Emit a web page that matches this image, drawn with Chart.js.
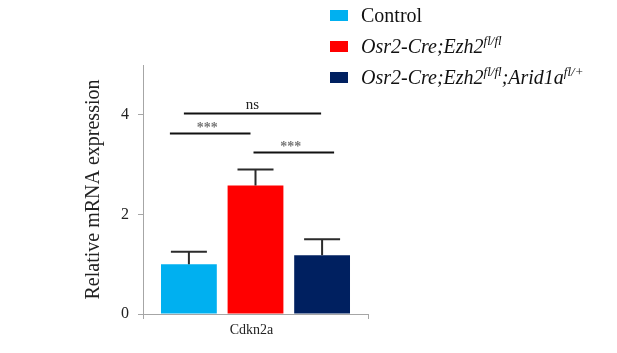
<!DOCTYPE html>
<html>
<head>
<meta charset="utf-8">
<script src="https://cdn.jsdelivr.net/npm/chart.js@4"></script>
<style>
  html, body { margin: 0; padding: 0; background: #fff; }
  #wrap { width: 617px; height: 353px; }
</style>
</head>
<body>
<div id="wrap"><canvas id="chart"></canvas></div>
<script>
// data
const categories = ["Cdkn2a"];
const seriesNames = ["Control", "Osr2-Cre;Ezh2^fl/fl", "Osr2-Cre;Ezh2^fl/fl;Arid1a^fl/+"];
const seriesItalic = [false, true, true];
const seriesColors = ["#00B0F0", "#FF0000", "#002060"];
const meanValues = [1.0, 2.58, 1.18];
const errorValues = [0.25, 0.32, 0.32];
const yTicks = [0, 2, 4];
const yMax = 5;

// significance bars: from bar index, to bar index, height, label
const sigFrom = [0, 0, 1];
const sigTo = [2, 1, 2];
const sigHeight = [4.03, 3.64, 3.26];
const sigLabels = ["ns", "***", "***"];

// small hand-drawn offsets of the bracket ends (px)
const sigEndOffsets = [[-5, -1], [-19, -5], [-2, 12]];

const serif = "'Liberation Serif', 'Times New Roman', serif";

const errorBarPlugin = {
    id: "errorBars",
    afterDatasetsDraw(chart) {
        const ctx = chart.ctx;
        const y = chart.scales.y;
        ctx.save();
        ctx.strokeStyle = "#2b2b2b";
        ctx.lineWidth = 2;
        chart.data.datasets.forEach((ds, i) => {
            const bar = chart.getDatasetMeta(i).data[0];
            const top = y.getPixelForValue(meanValues[i] + errorValues[i]);
            const half = 18;
            ctx.beginPath();
            ctx.moveTo(bar.x, bar.y);
            ctx.lineTo(bar.x, top);
            ctx.moveTo(bar.x - half, top);
            ctx.lineTo(bar.x + half, top);
            ctx.stroke();
        });
        ctx.restore();
    }
};

const sigPlugin = {
    id: "significance",
    afterDatasetsDraw(chart) {
        const ctx = chart.ctx;
        const y = chart.scales.y;
        ctx.save();
        sigLabels.forEach((label, k) => {
            const a = chart.getDatasetMeta(sigFrom[k]).data[0].x + sigEndOffsets[k][0];
            const b = chart.getDatasetMeta(sigTo[k]).data[0].x + sigEndOffsets[k][1];
            const py = Math.round(y.getPixelForValue(sigHeight[k])) + 0.5;
            ctx.strokeStyle = "#111";
            ctx.lineWidth = 2;
            ctx.beginPath();
            ctx.moveTo(a, py);
            ctx.lineTo(b, py);
            ctx.stroke();
            ctx.textAlign = "center";
            ctx.textBaseline = "alphabetic";
            if (label === "ns") {
                ctx.fillStyle = "#222";
                ctx.font = "15px " + serif;
                ctx.fillText(label, (a + b) / 2, py - 5);
            } else {
                ctx.fillStyle = "#777";
                ctx.font = "bold 14px " + serif;
                ctx.fillText(label, (a + b) / 2 - 3, py - 2);
            }
        });
        ctx.restore();
    }
};

// legend with italics and superscripts, drawn on the canvas
function splitLabel(text) {
    const parts = [];
    text.split(";").forEach((chunk, idx) => {
        const pre = idx > 0 ? ";" : "";
        const bits = chunk.split("^");
        parts.push({ t: pre + bits[0], sup: false });
        if (bits[1]) parts.push({ t: bits[1], sup: true });
    });
    return parts;
}

const legendPlugin = {
    id: "customLegend",
    afterDraw(chart) {
        const ctx = chart.ctx;
        const rowsY = [15, 46, 77];
        ctx.save();
        chart.data.datasets.forEach((ds, i) => {
            const cy = rowsY[i];
            ctx.fillStyle = ds.backgroundColor;
            ctx.fillRect(330, cy - 5, 18, 11);
            let x = 361;
            const it = seriesItalic[i] ? "italic " : "";
            ctx.fillStyle = "#111";
            ctx.textAlign = "left";
            ctx.textBaseline = "alphabetic";
            splitLabel(seriesNames[i]).forEach(p => {
                if (p.sup) {
                    ctx.font = it + "13px " + serif;
                    ctx.fillText(p.t, x, cy - 1);
                } else {
                    ctx.font = it + "20px " + serif;
                    ctx.fillText(p.t, x, cy + 7);
                }
                x += ctx.measureText(p.t).width;
            });
        });
        ctx.restore();
    }
};

const datasets = seriesNames.map((name, i) => ({
    label: name,
    data: [meanValues[i]],
    backgroundColor: seriesColors[i],
    borderWidth: 0,
    categoryPercentage: 0.888,
    barPercentage: 0.838
}));

new Chart(document.getElementById("chart"), {
    type: "bar",
    data: { labels: categories, datasets },
    options: {
        responsive: true,
        maintainAspectRatio: false,
        animation: false,
        layout: { padding: { top: 65, right: 249, bottom: 0, left: 0 } },
        plugins: {
            legend: { display: false },
            tooltip: { enabled: false }
        },
        scales: {
            x: {
                grid: { display: true, drawOnChartArea: false, tickLength: 5, color: "#a6a6a6" },
                border: { color: "#a6a6a6", width: 1 },
                ticks: {
                    color: "#222",
                    font: { family: serif, size: 14 },
                    padding: 3,
                    labelOffset: -4
                },
                afterFit(scale) { scale.height = 39; }
            },
            y: {
                min: 0,
                max: yMax,
                grid: { display: true, drawOnChartArea: false, tickLength: 5, color: "#a6a6a6" },
                border: { color: "#a6a6a6", width: 1 },
                ticks: {
                    stepSize: 2,
                    includeBounds: false,
                    color: "#222",
                    padding: 9,
                    font: { family: serif, size: 16 },
                    callback: v => yTicks.includes(v) ? String(v) : ""
                },
                title: {
                    display: true,
                    text: "Relative mRNA expression",
                    color: "#222",
                    font: { family: serif, size: 20 },
                    padding: { top: 82, bottom: 0 }
                },
                afterFit(scale) { scale.width = 143; }
            }
        }
    },
    plugins: [errorBarPlugin, sigPlugin, legendPlugin]
});
</script>
</body>
</html>
